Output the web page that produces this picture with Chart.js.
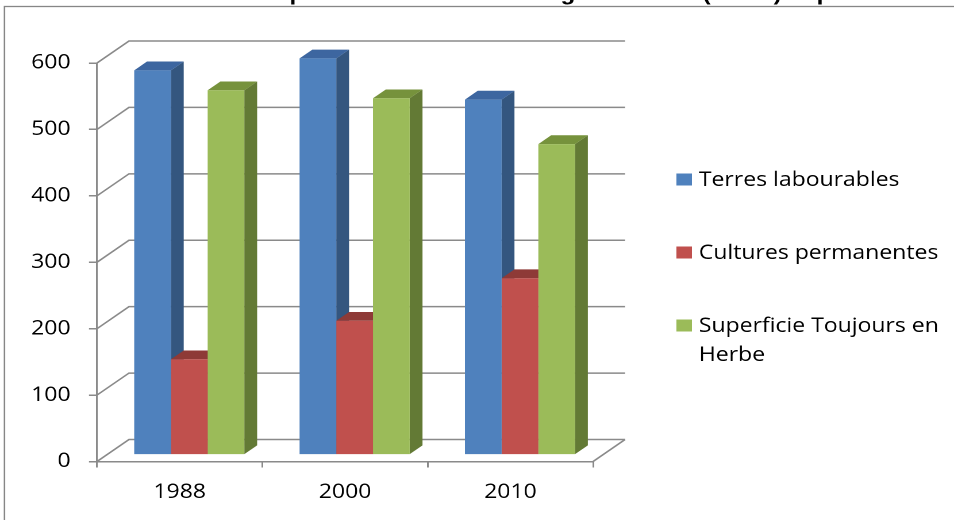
<!DOCTYPE html>
<html>
<head>
<meta charset="utf-8">
<script src="https://cdn.jsdelivr.net/npm/chart.js@4.4.1/dist/chart.umd.min.js"></script>
<style>
html, body { margin: 0; padding: 0; background: #fff; overflow: hidden; }
#wrap { width: 954px; height: 520px; overflow: hidden; }
/* the chart is laid out on an 830px wide canvas and widened to 954px */
#chart { display: block; transform: scaleX(1.1494); transform-origin: 0 0; }
</style>
</head>
<body>
<div id="wrap"><canvas id="chart" width="830" height="520"></canvas></div>
<script>
// Data (ha)
const years = ['1988', '2000', '2010'];
const terresLabourables = [579, 597, 535];
const culturesPermanentes = [144, 202, 266];
const toujoursEnHerbe = [549, 537, 468];
const yTicks = [0, 100, 200, 300, 400, 500, 600];
const seriesNames = ['Terres labourables', 'Cultures permanentes', 'Superficie Toujours en Herbe'];
const titleText = 'Répartition de la surface agricole utile (en ha) depuis 1988';

// Colours: front, side, top
const faces = [
    { front: '#4F81BD', side: '#34567F', top: '#3D66A0' },
    { front: '#C0504D', side: '#8A3634', top: '#8E3A37' },
    { front: '#9BBB59', side: '#637A35', top: '#76923C' }
];
const gridColor = '#8a8a8a';
const font = '"Open Sans", "Noto Sans", sans-serif';

// 3D look: floor depth vector, bars sit from 30% to 70% of the depth
const depth = { x: 27.8, y: -22 };
const FRONT = 0.3;
const THICK = 0.4;

const threeD = {
    id: 'threeD',
    beforeDraw(chart) {
        const ctx = chart.ctx;
        ctx.save();
        ctx.fillStyle = '#fff';
        ctx.fillRect(0, 0, chart.width, chart.height);
        // outer frame
        ctx.strokeStyle = '#868686';
        ctx.lineWidth = 1.3;
        ctx.strokeRect(3.9, 6.5, 1000, 700);
        // title, only its descenders fall inside the canvas
        ctx.fillStyle = '#000';
        ctx.font = 'bold 21px "Liberation Sans", Arial, sans-serif';
        ctx.textAlign = 'left';
        ctx.textBaseline = 'alphabetic';
        ctx.fillText(titleText, 225, 0);
        ctx.restore();
    },
    beforeDatasetsDraw(chart) {
        const ctx = chart.ctx;
        const { left, right, bottom } = chart.chartArea;
        const yScale = chart.scales.y;
        ctx.save();
        ctx.strokeStyle = gridColor;
        ctx.lineWidth = 1.5;
        // side wall diagonals + back wall gridlines
        yTicks.forEach(v => {
            const y = yScale.getPixelForValue(v);
            ctx.beginPath();
            ctx.moveTo(left, y);
            ctx.lineTo(left + depth.x, y + depth.y);
            ctx.lineTo(right + depth.x, y + depth.y);
            ctx.stroke();
        });
        // right edge of the floor
        ctx.beginPath();
        ctx.moveTo(right, bottom);
        ctx.lineTo(right + depth.x, bottom + depth.y);
        ctx.stroke();

        // side and top faces, category by category, left to right
        const fx = depth.x * FRONT, fy = depth.y * FRONT;
        const dx = depth.x * THICK, dy = depth.y * THICK;
        years.forEach((yr, i) => {
            chart.data.datasets.forEach((ds, d) => {
                const bar = chart.getDatasetMeta(d).data[i];
                const l = bar.x - bar.width / 2 + fx;
                const r = bar.x + bar.width / 2 + fx;
                const t = bar.y + fy;
                const b = bar.base + fy;
                ctx.fillStyle = faces[d].side;
                ctx.beginPath();
                ctx.moveTo(r, t);
                ctx.lineTo(r + dx, t + dy);
                ctx.lineTo(r + dx, b + dy);
                ctx.lineTo(r, b);
                ctx.closePath();
                ctx.fill();
                ctx.fillStyle = faces[d].top;
                ctx.beginPath();
                ctx.moveTo(l, t);
                ctx.lineTo(l + dx, t + dy);
                ctx.lineTo(r + dx, t + dy);
                ctx.lineTo(r, t);
                ctx.closePath();
                ctx.fill();
            });
        });
        ctx.restore();
    },
    // front faces are drawn by Chart.js, pushed back into the floor
    beforeDatasetDraw(chart) {
        chart.ctx.save();
        chart.ctx.translate(depth.x * FRONT, depth.y * FRONT);
    },
    afterDatasetDraw(chart) {
        chart.ctx.restore();
    },
    afterDraw(chart) {
        // legend on the right, with wrapping
        const ctx = chart.ctx;
        ctx.save();
        ctx.font = '20px ' + font;
        ctx.textBaseline = 'alphabetic';
        ctx.textAlign = 'left';
        let base = 186;
        chart.data.datasets.forEach((ds, d) => {
            ctx.fillStyle = faces[d].front;
            ctx.fillRect(588.5, base - 12.5, 13.5, 12);
            ctx.fillStyle = '#000';
            const words = ds.label.split(' ');
            let line = '';
            let lines = [];
            words.forEach(w => {
                const test = line ? line + ' ' + w : w;
                if (ctx.measureText(test).width > 216 && line) {
                    lines.push(line);
                    line = w;
                } else {
                    line = test;
                }
            });
            lines.push(line);
            lines.forEach((ln, k) => ctx.fillText(ln, 608, base + k * 29));
            base += 73;
        });
        ctx.restore();
    }
};

const tickFont = { family: font, size: 20 };

new Chart(document.getElementById('chart'), {
    type: 'bar',
    data: {
        labels: years,
        datasets: [
            { label: seriesNames[0], data: terresLabourables, backgroundColor: faces[0].front },
            { label: seriesNames[1], data: culturesPermanentes, backgroundColor: faces[1].front },
            { label: seriesNames[2], data: toujoursEnHerbe, backgroundColor: faces[2].front }
        ]
    },
    options: {
        responsive: false,
        animation: false,
        devicePixelRatio: 2,
        layout: { padding: { left: 0, top: 63, right: 314, bottom: 0 } },
        datasets: {
            bar: { categoryPercentage: 0.666, barPercentage: 1.0, borderWidth: 0, clip: false }
        },
        plugins: {
            legend: { display: false },
            tooltip: { enabled: false }
        },
        scales: {
            x: {
                ticks: { color: '#000', font: tickFont, padding: 13 },
                grid: { offset: true, drawOnChartArea: false, tickLength: 6, color: gridColor, lineWidth: 1.5 },
                border: { color: gridColor, width: 1.5 },
                afterFit: s => { s.height = 520 - 461.5; }
            },
            y: {
                min: 0,
                max: 600,
                afterBuildTicks: s => { s.ticks = yTicks.map(v => ({ value: v })); },
                ticks: { color: '#000', font: tickFont, padding: 16 },
                grid: { drawOnChartArea: false, tickLength: 7, color: gridColor, lineWidth: 1.5 },
                border: { color: gridColor, width: 1.5 },
                afterFit: s => { s.width = 84.4; }
            }
        }
    },
    plugins: [threeD]
});
</script>
</body>
</html>
